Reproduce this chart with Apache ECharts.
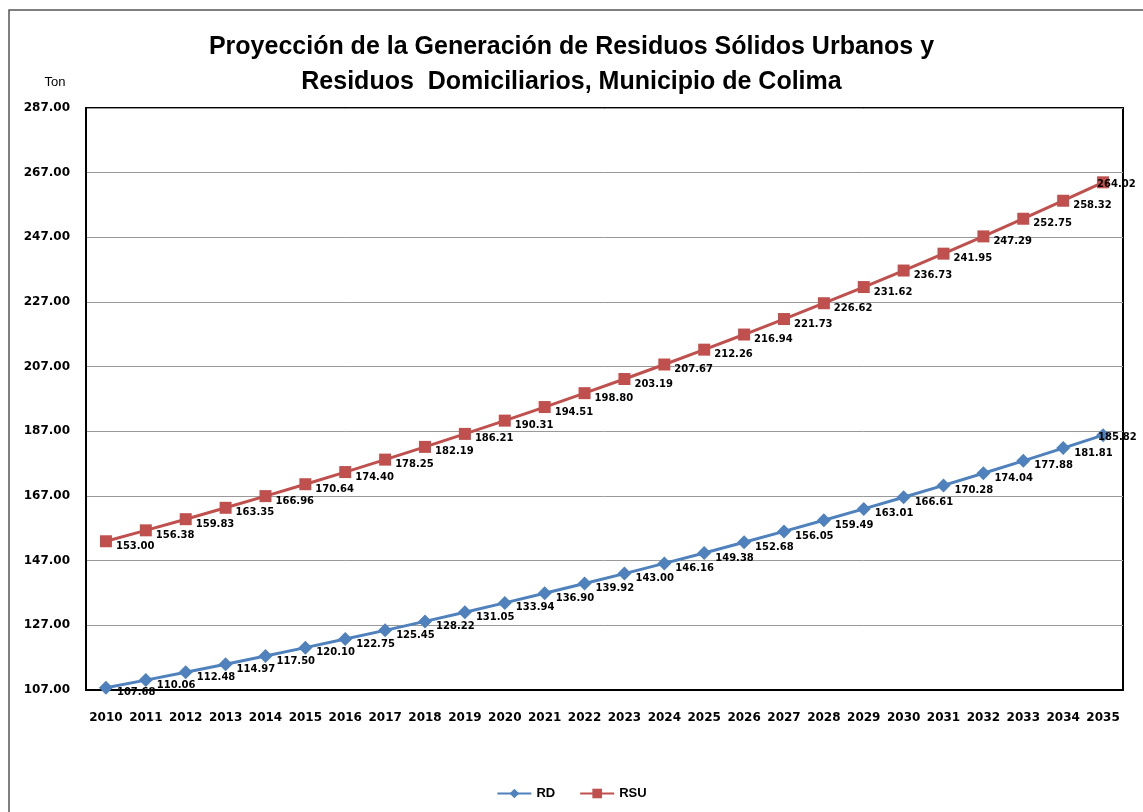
<!DOCTYPE html>
<html><head><meta charset="utf-8">
<script src="https://cdn.jsdelivr.net/npm/echarts@6/dist/echarts.min.js"></script>
<style>html,body{margin:0;padding:0;background:#fff}#c{width:1143px;height:812px}</style>
</head><body><div id="c"></div>
<script>
const years = ['2010','2011','2012','2013','2014','2015','2016','2017','2018','2019','2020','2021','2022','2023','2024','2025','2026','2027','2028','2029','2030','2031','2032','2033','2034','2035'];
const rd = [107.68,110.06,112.48,114.97,117.50,120.10,122.75,125.45,128.22,131.05,133.94,136.90,139.92,143.00,146.16,149.38,152.68,156.05,159.49,163.01,166.61,170.28,174.04,177.88,181.81,185.82];
const rsu = [153.00,156.38,159.83,163.35,166.96,170.64,174.40,178.25,182.19,186.21,190.31,194.51,198.80,203.19,207.67,212.26,216.94,221.73,226.62,231.62,236.73,241.95,247.29,252.75,258.32,264.02];
const yMin = 107, yMax = 287, yStep = 20;

const chart = echarts.init(document.getElementById('c'));
const lbl = {show:true, position:'right', distance:4, offset:[0,5], fontFamily:'DejaVu Sans', fontWeight:'bold', fontSize:10, color:'#000', formatter:p=>p.value.toFixed(2)};
// last label shifted left so it stays inside the picture, as in the reference
const withLast = arr => arr.map((v,i)=> i===arr.length-1 ? {value:v, label:{offset:[-16,2]}} : v);
chart.setOption({
  animation:false,
  backgroundColor:'#fff',
  title:{text:'Proyección de la Generación de Residuos Sólidos Urbanos y\nResiduos  Domiciliarios, Municipio de Colima', left:'center', top:25,
    textStyle:{fontFamily:'Liberation Sans', fontWeight:'bold', fontSize:25, lineHeight:35, color:'#000'}},
  graphic:[{type:'rect', shape:{x:9, y:10, width:1300, height:900}, style:{fill:'none', stroke:'#555', lineWidth:1.5}, silent:true}],
  legend:{bottom:7, left:'center', itemWidth:34, itemHeight:12, itemGap:24,
    textStyle:{fontFamily:'Liberation Sans', fontWeight:'bold', fontSize:13, color:'#000'},
    data:['RD','RSU']},
  grid:{left:86, top:108, right:20, bottom:122, show:true, borderColor:'#000', borderWidth:2},
  xAxis:{type:'category', data:years, boundaryGap:true,
    axisLine:{lineStyle:{color:'#000', width:2}}, axisTick:{show:false},
    axisLabel:{margin:22, fontFamily:'DejaVu Sans', fontWeight:'bold', fontSize:12, color:'#000', interval:0}},
  yAxis:{type:'value', min:yMin, max:yMax, interval:yStep, name:'Ton', nameLocation:'end', nameGap:19,
    nameTextStyle:{fontFamily:'Liberation Sans', fontSize:13, color:'#000', align:'center', padding:[0,0,0,-62]},
    axisLine:{show:true, lineStyle:{color:'#000', width:2}}, axisTick:{show:false},
    axisLabel:{margin:16, fontFamily:'DejaVu Sans', fontWeight:'bold', fontSize:12, color:'#000', formatter:v=>v.toFixed(2)},
    splitLine:{lineStyle:{color:'#999', width:1}}},
  series:[
    {name:'RD', type:'line', data:withLast(rd), symbol:'diamond', symbolSize:14, itemStyle:{color:'#4F81BD'}, lineStyle:{width:3, color:'#4F81BD'}, label:lbl},
    {name:'RSU', type:'line', data:withLast(rsu), symbol:'rect', symbolSize:12, itemStyle:{color:'#C0504D'}, lineStyle:{width:3, color:'#C0504D'}, label:lbl}
  ]
});
</script></body></html>
